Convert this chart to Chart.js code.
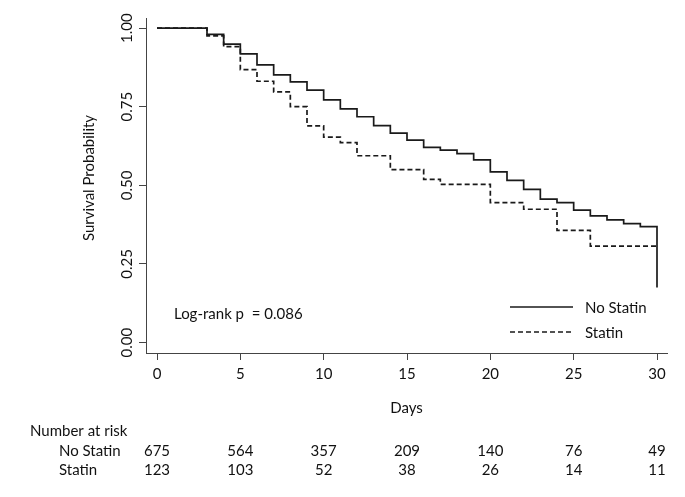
<!DOCTYPE html>
<html>
<head>
<meta charset="utf-8">
<title>Survival by statin use</title>
<script src="https://cdn.jsdelivr.net/npm/chart.js@4.4.1/dist/chart.umd.min.js"></script>
<style>
  html, body { margin: 0; padding: 0; background: #fff; }
  #wrap { width: 685px; height: 497px; }
</style>
</head>
<body>
<div id="wrap"><canvas id="kmChart" width="685" height="497"></canvas></div>
<script>
// Kaplan-Meier steps (day of drop, survival after drop)
const noStatinDays = [0, 3, 4, 5, 6, 7, 8, 9, 10, 11, 12, 13, 14, 15, 16, 17, 18, 19, 20, 21, 22, 23, 24, 25, 26, 27, 28, 29, 30];
const noStatinSurv = [1.00, 0.980, 0.949, 0.918, 0.883, 0.851, 0.829, 0.803, 0.772, 0.743, 0.718, 0.690, 0.666, 0.644, 0.621, 0.612, 0.601, 0.581, 0.543, 0.516, 0.487, 0.456, 0.445, 0.421, 0.403, 0.390, 0.378, 0.369, 0.175];

const statinDays = [0, 3, 4, 5, 6, 7, 8, 9, 10, 11, 12, 14, 16, 17, 20, 22, 24, 26, 30];
const statinSurv = [1.00, 0.975, 0.941, 0.868, 0.831, 0.797, 0.750, 0.689, 0.653, 0.636, 0.594, 0.550, 0.519, 0.503, 0.445, 0.424, 0.357, 0.307, 0.307];

// axis ticks
const xTicks = [0, 5, 10, 15, 20, 25, 30];
const yTicks = [0, 0.25, 0.5, 0.75, 1];

// number at risk table
const riskDays = [0, 5, 10, 15, 20, 25, 30];
const riskNoStatin = [675, 564, 357, 209, 140, 76, 49];
const riskStatin = [123, 103, 52, 38, 26, 14, 11];

const FONT_FAMILY = 'Lato, "Open Sans", sans-serif';
const FONT_SIZE = 15;
const TEXT = '#111';
const AXIS = '#444';
const LINE = '#1a1a1a';

function toPoints(days, surv) {
  return days.map((d, i) => ({ x: d, y: surv[i] }));
}

// extra text: rotated y labels, legend, p-value, number at risk
const kmExtras = {
  id: 'kmExtras',
  afterDraw(chart) {
    const { ctx, scales: { x, y } } = chart;
    const font = FONT_SIZE + 'px ' + FONT_FAMILY;
    ctx.save();
    ctx.fillStyle = TEXT;
    ctx.font = font;

    // y tick labels, rotated like base R
    y.ticks.forEach((t, i) => {
      ctx.save();
      ctx.translate(127.5, y.getPixelForTick(i));
      ctx.rotate(-Math.PI / 2);
      ctx.textAlign = 'center';
      ctx.textBaseline = 'middle';
      ctx.fillText(t.value.toFixed(2), 0, 0);
      ctx.restore();
    });

    // y axis title
    ctx.save();
    ctx.translate(89, 178);
    ctx.rotate(-Math.PI / 2);
    ctx.textAlign = 'center';
    ctx.textBaseline = 'middle';
    ctx.fillText('Survival Probability', 0, 0);
    ctx.restore();

    // p-value
    ctx.textAlign = 'left';
    ctx.textBaseline = 'middle';
    ctx.fillText('Log-rank p  = 0.086', 174, 314);

    // legend
    chart.data.datasets.forEach((ds, i) => {
      const ly = 307 + i * 25;
      ctx.save();
      ctx.strokeStyle = ds.borderColor;
      ctx.lineWidth = ds.borderWidth;
      ctx.setLineDash(ds.borderDash || []);
      ctx.beginPath();
      ctx.moveTo(510, ly);
      ctx.lineTo(573, ly);
      ctx.stroke();
      ctx.restore();
      ctx.fillText(ds.label, 585, ly + 1);
    });

    // number at risk
    ctx.fillText('Number at risk', 30, 431);
    ctx.fillText('No Statin', 59, 451);
    ctx.fillText('Statin', 59, 470);
    ctx.textAlign = 'center';
    riskDays.forEach((d, i) => {
      const px = x.getPixelForValue(d);
      ctx.fillText(String(riskNoStatin[i]), px, 451);
      ctx.fillText(String(riskStatin[i]), px, 470);
    });
    ctx.restore();
  }
};

const axisGrid = { display: true, drawOnChartArea: false, drawTicks: true, tickLength: 7, color: AXIS, lineWidth: 1 };
const axisBorder = { display: true, color: AXIS, width: 1 };

new Chart(document.getElementById('kmChart'), {
  type: 'line',
  data: {
    datasets: [
      {
        label: 'No Statin',
        data: toPoints(noStatinDays, noStatinSurv),
        borderColor: LINE,
        borderWidth: 1.7,
        stepped: 'before',
        pointRadius: 0,
        fill: false
      },
      {
        label: 'Statin',
        data: toPoints(statinDays, statinSurv),
        borderColor: LINE,
        borderWidth: 1.7,
        borderDash: [5, 3],
        stepped: 'before',
        pointRadius: 0,
        fill: false
      }
    ]
  },
  options: {
    responsive: false,
    animation: false,
    layout: { padding: { top: 18, right: 18, left: 0, bottom: 0 } },
    plugins: {
      legend: { display: false },
      tooltip: { enabled: false }
    },
    scales: {
      x: {
        type: 'linear',
        min: -0.66,
        max: 30.6,
        afterBuildTicks: s => { s.ticks = xTicks.map(v => ({ value: v })); },
        afterFit: s => { s.height = 144; },
        grid: axisGrid,
        border: axisBorder,
        ticks: {
          font: { family: FONT_FAMILY, size: FONT_SIZE },
          color: TEXT,
          padding: 5,
          maxRotation: 0,
          autoSkip: false
        },
        title: {
          display: true,
          text: 'Days',
          font: { family: FONT_FAMILY, size: FONT_SIZE },
          color: TEXT,
          padding: { top: 0, bottom: 80 }
        }
      },
      y: {
        type: 'linear',
        min: -0.033,
        max: 1.032,
        afterBuildTicks: s => { s.ticks = yTicks.map(v => ({ value: v })); },
        afterFit: s => { s.width = 146; },
        grid: axisGrid,
        border: axisBorder,
        ticks: { display: false }
      }
    }
  },
  plugins: [kmExtras]
});
</script>
</body>
</html>
